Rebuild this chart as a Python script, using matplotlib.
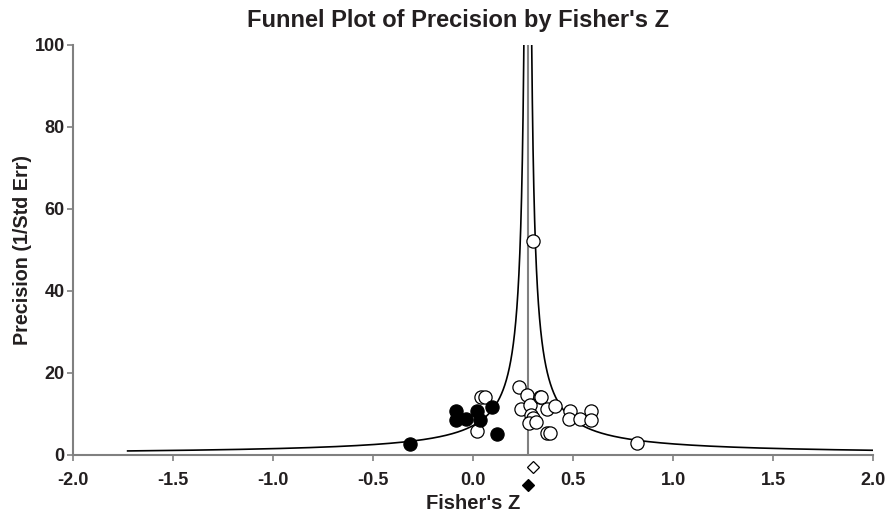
import numpy as np
import matplotlib.pyplot as plt

plt.rcParams['font.family'] = ['Liberation Sans', 'DejaVu Sans']
plt.rcParams['font.weight'] = 'bold'

# observed studies (open circles)
obs_z = [0.018, 0.040, 0.060, 0.227, 0.268, 0.238, 0.285, 0.290, 0.300, 0.277,
         0.315, 0.332, 0.340, 0.368, 0.410, 0.368, 0.385, 0.485, 0.477, 0.535,
         0.588, 0.588, 0.818, 0.300]
obs_prec = [5.9, 14.1, 14.1, 16.5, 14.6, 11.1, 12.2, 9.8, 8.9, 7.7,
            8.1, 14.2, 14.1, 11.1, 11.9, 5.3, 5.3, 10.8, 8.7, 8.7,
            10.7, 8.5, 2.8, 52.2]

# imputed studies (filled circles)
imp_z = [-0.315, -0.085, -0.085, -0.035, 0.018, 0.035, 0.095, 0.118]
imp_prec = [2.7, 10.7, 8.5, 8.7, 10.7, 8.5, 11.8, 5.0]

# combined estimates
obs_mean = 0.300
adj_mean = 0.273

txt = '#231f20'

fig = plt.figure(figsize=(8.86, 5.17), dpi=100)
ax = fig.add_axes([0.0824, 0.12, 0.9033, 0.793])

# funnel
prec = np.linspace(0.98, 110, 4000)
ax.plot(adj_mean - 1.96 / prec, prec, color='black', lw=1.2)
ax.plot(adj_mean + 1.96 / prec, prec, color='black', lw=1.2)
ax.plot([adj_mean, adj_mean], [0, 100], color='#808080', lw=1.5)

ax.plot(obs_z, obs_prec, 'o', ms=9.5, mfc='white', mec='black', mew=0.9, clip_on=False)
ax.plot(imp_z, imp_prec, 'o', ms=9.5, mfc='black', mec='black', mew=0.9, clip_on=False)

# diamonds below the axis
ax.plot([obs_mean], [-2.85], 'D', ms=6.5, mfc='white', mec='black', mew=0.9, clip_on=False)
ax.plot([adj_mean], [-7.3], 'D', ms=6.5, mfc='black', mec='black', mew=0.9, clip_on=False)

ax.set_xlim(-2.0, 2.0)
ax.set_ylim(0, 100)
ax.set_xticks(np.arange(-2.0, 2.01, 0.5))
ax.set_xticklabels(['%.1f' % v for v in np.arange(-2.0, 2.01, 0.5)])
ax.set_yticks(range(0, 101, 20))

for s in ['top', 'right']:
    ax.spines[s].set_visible(False)
for s in ['left', 'bottom']:
    ax.spines[s].set_color('#808080')
    ax.spines[s].set_linewidth(1.5)
ax.tick_params(axis='both', colors='#808080', length=4, width=1.2, labelsize=13,
               labelcolor=txt)
ax.tick_params(axis='x', pad=8)
ax.tick_params(axis='y', pad=2)

ax.set_xlabel("Fisher's Z", fontsize=14.5, fontweight='bold', color=txt, labelpad=4)
ax.set_ylabel("Precision (1/Std Err)", fontsize=14.2, fontweight='bold', color=txt, labelpad=2)
fig.text(0.517, 0.948, "Funnel Plot of Precision by Fisher's Z", fontsize=17,
         fontweight='bold', color=txt, ha='center', va='baseline')

plt.savefig('out.png', dpi=100)
